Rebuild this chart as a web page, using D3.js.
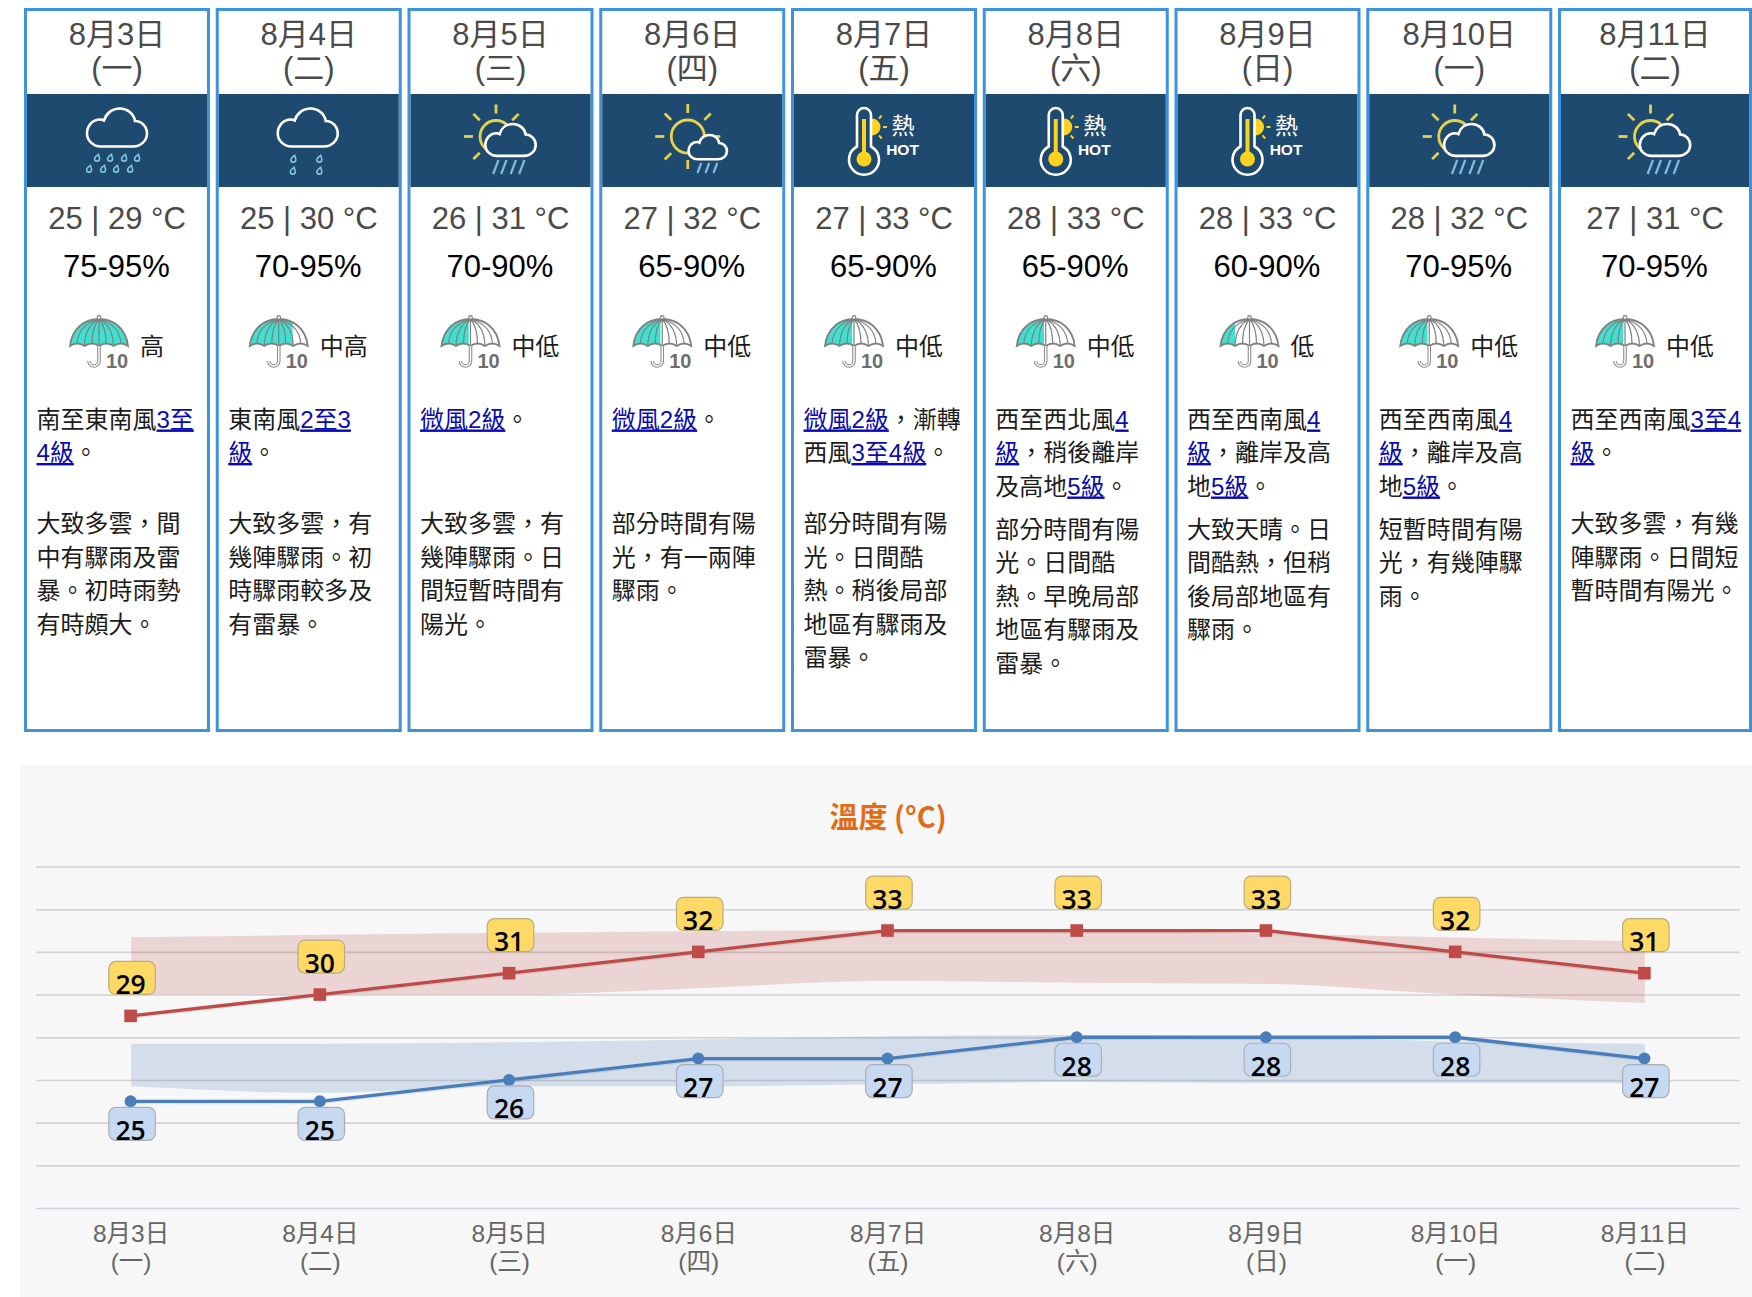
<!DOCTYPE html>
<html lang="zh-Hant">

<head>
    <meta charset="utf-8">
    <script src="https://d3js.org/d3.v7.min.js"></script>
    <style>
        body { margin: 0; background: white; }
        svg { display: block; }
        text { font-family: "Liberation Sans", "Noto Sans CJK TC", sans-serif; }
    </style>
</head>

<body>
    <svg id="page" width="1752" height="1297"></svg>
    <script>
        // forecast values
        const dates = ["8月3日", "8月4日", "8月5日", "8月6日", "8月7日", "8月8日", "8月9日", "8月10日", "8月11日"];
        const weekdays = ["(一)", "(二)", "(三)", "(四)", "(五)", "(六)", "(日)", "(一)", "(二)"];
        const minTemp = [25, 25, 26, 27, 27, 28, 28, 28, 27];
        const maxTemp = [29, 30, 31, 32, 33, 33, 33, 32, 31];
        const humidity = ["75-95%", "70-95%", "70-90%", "65-90%", "65-90%", "65-90%", "60-90%", "70-95%", "70-95%"];
        const rainWord = ["高", "中高", "中低", "中低", "中低", "中低", "低", "中低", "中低"];
        const rainShare = [1, 0.74, 0.47, 0.47, 0.47, 0.47, 0.25, 0.47, 0.47];
        const icons = ["heavyRain", "rain", "cloudSun", "sunCloud", "hot", "hot", "hot", "cloudSun", "cloudSun"];

        // [..] marks the underlined link part of a line
        const windLines = [
            ["南至東南風[3至]", "[4級]。"],
            ["東南風[2至3]", "[級]。"],
            ["[微風2級]。"],
            ["[微風2級]。"],
            ["[微風2級]，漸轉", "西風[3至4級]。"],
            ["西至西北風[4]", "[級]，稍後離岸", "及高地[5級]。"],
            ["西至西南風[4]", "[級]，離岸及高", "地[5級]。"],
            ["西至西南風[4]", "[級]，離岸及高", "地[5級]。"],
            ["西至西南風[3至4]", "[級]。"]
        ];
        const forecastLines = [
            ["大致多雲，間", "中有驟雨及雷", "暴。初時雨勢", "有時頗大。"],
            ["大致多雲，有", "幾陣驟雨。初", "時驟雨較多及", "有雷暴。"],
            ["大致多雲，有", "幾陣驟雨。日", "間短暫時間有", "陽光。"],
            ["部分時間有陽", "光，有一兩陣", "驟雨。"],
            ["部分時間有陽", "光。日間酷", "熱。稍後局部", "地區有驟雨及", "雷暴。"],
            ["部分時間有陽", "光。日間酷", "熱。早晚局部", "地區有驟雨及", "雷暴。"],
            ["大致天晴。日", "間酷熱，但稍", "後局部地區有", "驟雨。"],
            ["短暫時間有陽", "光，有幾陣驟", "雨。"],
            ["大致多雲，有幾", "陣驟雨。日間短", "暫時間有陽光。"]
        ];

        // shaded ranges behind the two lines
        const maxBandHigh = [32.68, 32.8, 32.9, 32.97, 33, 33, 32.85, 32.67, 32.5];
        const maxBandLow = [30, 30, 30, 30.3, 30.65, 30.55, 30.5, 30, 29.6];
        const minBandHigh = [27.7, 27.7, 27.77, 27.9, 28.05, 28.1, 28, 27.8, 27.7];
        const minBandLow = [25.7, 25.4, 25.7, 25.7, 25.8, 25.9, 25.85, 25.85, 25.85];
        const gridTicks = [20, 22, 24, 26, 28, 30, 32, 34, 36];

        const svg = d3.select("#page");
        const cardStep = 191.75;
        const navy = "#1f4a70";

        // ---------- icons ----------
        const cloudPath = "M-16,38 H16 C24,38 30,32 30,25 C30,18 24.5,12.5 18,12.5 C17,5 10,0 3,0 C-5,0 -11,5 -13,12 C-15,11 -16,11 -17,11 C-24.5,11 -30,17.5 -30,25 C-30,32 -24,38 -16,38 Z";

        function drawCloud(g, x, y, scale) {
            g.append("path")
                .attr("d", cloudPath)
                .attr("transform", `translate(${x},${y}) scale(${scale})`)
                .attr("fill", navy)
                .attr("stroke", "white")
                .attr("stroke-width", 2.6 / scale);
        }

        function drawDrops(g, spots) {
            spots.forEach(s => {
                g.append("path")
                    .attr("d", "M1.8,-4.6 C2,-2.5 3.2,-1.2 3.2,0.8 A3,3 0 0 1 -3,0.8 C-3,-1.6 0,-3.4 1.8,-4.6 Z")
                    .attr("transform", `translate(${s[0]},${s[1]}) scale(0.8)`)
                    .attr("fill", "none")
                    .attr("stroke", "#82c4e6")
                    .attr("stroke-width", 1.9);
            });
        }

        function drawSlashes(g, spots, len) {
            spots.forEach(s => {
                g.append("line")
                    .attr("x1", s[0]).attr("y1", s[1])
                    .attr("x2", s[0] - len * 0.38).attr("y2", s[1] + len)
                    .attr("stroke", "#7fbde0")
                    .attr("stroke-width", 2.2);
            });
        }

        function drawSun(g, x, y, r, rayAngles) {
            g.append("circle")
                .attr("cx", x).attr("cy", y).attr("r", r)
                .attr("fill", "none")
                .attr("stroke", "#e6d14b")
                .attr("stroke-width", 2.8);
            rayAngles.forEach(a => {
                const t = a * Math.PI / 180;
                g.append("line")
                    .attr("x1", x + Math.cos(t) * (r + 7)).attr("y1", y + Math.sin(t) * (r + 7))
                    .attr("x2", x + Math.cos(t) * (r + 16)).attr("y2", y + Math.sin(t) * (r + 16))
                    .attr("stroke", "#e6d14b")
                    .attr("stroke-width", 2.8);
            });
        }

        function drawHot(g) {
            // small sun behind the thermometer
            g.append("circle").attr("cx", -12).attr("cy", 127).attr("r", 8.5).attr("fill", "#fbd31f");
            [-50, 0, 50].forEach(a => {
                const t = a * Math.PI / 180;
                g.append("line")
                    .attr("x1", -12 + Math.cos(t) * 11).attr("y1", 127 + Math.sin(t) * 11)
                    .attr("x2", -12 + Math.cos(t) * 15).attr("y2", 127 + Math.sin(t) * 15)
                    .attr("stroke", "#fbd31f").attr("stroke-width", 2);
            });
            g.append("path")
                .attr("d", "M-27,146.5 V115 A7,7 0 0 1 -13,115 V146.5 A15,15 0 1 1 -27,146.5 Z")
                .attr("fill", navy)
                .attr("stroke", "white")
                .attr("stroke-width", 2.6);
            g.append("rect").attr("x", -22).attr("y", 119).attr("width", 4).attr("height", 36).attr("fill", "#fbd31f");
            g.append("circle").attr("cx", -20).attr("cy", 159).attr("r", 7.5).attr("fill", "#fbd31f");
            g.append("text").attr("x", 19).attr("y", 134)
                .attr("text-anchor", "middle").attr("font-size", 23).attr("fill", "white").text("熱");
            g.append("text").attr("x", 18.5).attr("y", 154.5)
                .attr("text-anchor", "middle").attr("font-size", 15.5).attr("font-weight", "bold").attr("fill", "white").text("HOT");
        }

        function drawIcon(g, kind) {
            if (kind == "heavyRain") {
                drawCloud(g, 0, 108.5, 1);
                drawDrops(g, [[-20, 158], [-7, 158], [7, 158], [20, 158], [-28, 169], [-14, 169], [-1, 169], [13, 169]]);
            } else if (kind == "rain") {
                drawCloud(g, -1, 108.5, 1);
                drawDrops(g, [[-15.5, 159], [10.5, 159], [-16, 171], [10.5, 171]]);
            } else if (kind == "cloudSun") {
                drawSun(g, -4.5, 136.5, 16, [-135, -90, -45, 180, 135]);
                drawCloud(g, 10, 124, 0.84);
                drawSlashes(g, [[-2, 160], [6, 160], [15.5, 160], [24, 160]], 14);
            } else if (kind == "sunCloud") {
                drawSun(g, -4.5, 136.5, 16.5, [-135, -90, -45, 0, 180, 135, 90]);
                drawCloud(g, 15.5, 135, 0.64);
                drawSlashes(g, [[9, 163], [17, 163], [25, 163]], 10);
            } else {
                drawHot(g);
            }
        }

        function drawUmbrella(g, id, share) {
            const dome = "M0,31 C2,13 15,4 29,4 C43,4 56,13 58,31 Q50.8,26 43.5,31 Q36.2,26 29,31 Q21.8,26 14.5,31 Q7.2,26 0,31 Z";
            g.append("clipPath").attr("id", id).append("rect")
                .attr("x", 0).attr("y", 0).attr("width", 58 * share).attr("height", 40);
            g.append("path").attr("d", dome).attr("fill", "white");
            g.append("path").attr("d", dome).attr("fill", "#40e0d0").attr("clip-path", `url(#${id})`);
            g.append("path").attr("d", "M29,4 Q8,10 7,29 M29,4 Q15,11 14.5,31 M29,4 Q22,12 22,29 M29,4 V31 M29,4 Q36,12 36,29 M29,4 Q43,11 43.5,31 M29,4 Q50,10 51,29")
                .attr("fill", "none").attr("stroke", "#808080").attr("stroke-width", 1.2);
            g.append("path").attr("d", dome)
                .attr("fill", "none").attr("stroke", "#808080").attr("stroke-width", 1.8);
            g.append("circle").attr("cx", 29).attr("cy", 2.5).attr("r", 1.8)
                .attr("fill", "white").attr("stroke", "#808080").attr("stroke-width", 1.2);
            // handle is a grey outline round a white stem
            g.append("path").attr("d", "M29,31 V46 A5,5 0 0 1 19,46")
                .attr("fill", "none").attr("stroke", "#909090").attr("stroke-width", 3.6);
            g.append("path").attr("d", "M29,31 V46 A5,5 0 0 1 19,46")
                .attr("fill", "none").attr("stroke", "white").attr("stroke-width", 1.4);
            g.append("text").attr("x", 36).attr("y", 52.5)
                .attr("font-size", 20).attr("font-weight", "bold").attr("fill", "#6e6e6e").text("10");
        }

        // writes one line with its [..] parts as underlined blue links
        function writeLine(g, x, y, line) {
            const t = g.append("text").attr("x", x).attr("y", y).attr("font-size", 24).attr("fill", "#1c1c1c");
            line.split(/(\[[^\]]*\])/).filter(p => p != "").forEach(p => {
                if (p[0] == "[") {
                    t.append("tspan").attr("fill", "#0a0ab4").style("text-decoration", "underline").text(p.slice(1, -1));
                } else {
                    t.append("tspan").text(p);
                }
            });
        }

        // ---------- the nine day cards ----------
        dates.forEach((d, i) => {
            const left = 24 + cardStep * i;
            const width = i == 8 ? 1752 - left : 186;
            const cx = left + width / 2;
            const card = svg.append("g");

            card.append("rect")
                .attr("x", left + 1.5).attr("y", 9.5)
                .attr("width", width - 3).attr("height", 721)
                .attr("fill", "white")
                .attr("stroke", "#3d94dc")
                .attr("stroke-width", 3);
            card.append("rect")
                .attr("x", left + 3).attr("y", 94)
                .attr("width", width - 6).attr("height", 93)
                .attr("fill", navy);

            card.append("text").attr("x", cx).attr("y", 45)
                .attr("text-anchor", "middle").attr("font-size", 31).attr("fill", "#4a4a4a").text(d);
            card.append("text").attr("x", cx).attr("y", 78.5)
                .attr("text-anchor", "middle").attr("font-size", 31).attr("fill", "#4a4a4a").text(weekdays[i]);

            drawIcon(card.append("g").attr("transform", `translate(${cx},0)`), icons[i]);

            card.append("text").attr("x", cx).attr("y", 228.5)
                .attr("text-anchor", "middle").attr("font-size", 31).attr("fill", "#4a4a4a")
                .text(`${minTemp[i]} | ${maxTemp[i]} °C`);
            card.append("text").attr("x", cx - 0.5).attr("y", 277)
                .attr("text-anchor", "middle").attr("font-size", 31).attr("fill", "black")
                .text(humidity[i]);

            const groupWidth = 70 + 24 * rainWord[i].length;
            const umbrellaX = cx - groupWidth / 2;
            drawUmbrella(card.append("g").attr("transform", `translate(${umbrellaX},315)`), "rain" + i, rainShare[i]);
            card.append("text").attr("x", umbrellaX + 70).attr("y", 355)
                .attr("font-size", 24).attr("fill", "#1c1c1c").text(rainWord[i]);

            const textX = left + 12.5;
            windLines[i].forEach((line, k) => writeLine(card, textX, 427.5 + 33.5 * k, line));
            const startY = windLines[i].length == 3 ? 537.5 : 532;
            forecastLines[i].forEach((line, k) => writeLine(card, textX, startY + 33.5 * k, line));
        });

        // ---------- temperature chart ----------
        svg.append("rect")
            .attr("x", 20).attr("y", 765)
            .attr("width", 1732).attr("height", 532)
            .attr("fill", "#f7f7f7");

        svg.append("text")
            .attr("x", 888).attr("y", 827.5)
            .attr("text-anchor", "middle")
            .attr("font-size", 29).attr("font-weight", 700)
            .attr("fill", "#e26b17")
            .style("font-family", "'Noto Sans CJK TC'")
            .text("溫度 (°C)");

        let xScale = d3.scalePoint()
            .domain(d3.range(dates.length))
            .range([36, 1739])
            .padding(0.5);
        let yScale = d3.scaleLinear()
            .domain([20, 36])
            .range([1208, 866.5]);

        svg.append("g")
            .attr("transform", "translate(36,0)")
            .call(d3.axisLeft(yScale).tickValues(gridTicks).tickSize(-1704).tickFormat(""))
            .call(g => g.select(".domain").remove())
            .selectAll("line")
            .attr("stroke", d => d == 20 ? "#c6d3e4" : "#d2d2d2")
            .attr("stroke-width", 1.6);

        svg.append("g")
            .attr("transform", "translate(0,1207)")
            .call(d3.axisBottom(xScale).tickSize(0).tickFormat(""))
            .call(g => g.select(".domain").remove())
            .selectAll(".tick text")
            .each(function (d) {
                const t = d3.select(this)
                    .attr("y", 0).attr("dy", null)
                    .attr("font-size", 24.5).attr("fill", "#666")
                    .style("font-family", "'Liberation Sans', 'Noto Sans CJK TC'");
                t.append("tspan").attr("x", 0).attr("y", 35).text(dates[d]);
                t.append("tspan").attr("x", 0).attr("y", 63).text(weekdays[d]);
            });

        const bandArea = (low, high) => d3.area()
            .x((d, i) => xScale(i) + 0.5)
            .y0((d, i) => yScale(low[i]))
            .y1((d, i) => yScale(high[i]))
            .curve(d3.curveMonotoneX)(dates);

        svg.append("path").attr("d", bandArea(maxBandLow, maxBandHigh)).attr("fill", "rgba(192,80,77,0.2)");
        svg.append("path").attr("d", bandArea(minBandLow, minBandHigh)).attr("fill", "rgba(74,126,187,0.2)");

        const tempLine = d3.line().x((d, i) => xScale(i)).y(d => yScale(d));

        [[maxTemp, "#bf4b49"], [minTemp, "#4a7ebb"]].forEach(s => {
            // faint shadow under the line
            svg.append("path").attr("d", tempLine(s[0]))
                .attr("transform", "translate(0,1.5)")
                .attr("fill", "none").attr("stroke", "black").attr("stroke-opacity", 0.08).attr("stroke-width", 3);
            svg.append("path").attr("d", tempLine(s[0]))
                .attr("fill", "none").attr("stroke", s[1]).attr("stroke-width", 3.3);
        });

        svg.selectAll(".maxMark").data(maxTemp).join("rect")
            .attr("x", (d, i) => xScale(i) - 6.3)
            .attr("y", d => yScale(d) - 6.3)
            .attr("width", 12.6).attr("height", 12.6)
            .attr("fill", "#bf4b49");
        svg.selectAll(".minMark").data(minTemp).join("circle")
            .attr("cx", (d, i) => xScale(i))
            .attr("cy", d => yScale(d))
            .attr("r", 6)
            .attr("fill", "#4a7ebb");

        function drawBadges(values, top, fill, edge) {
            values.forEach((d, i) => {
                svg.append("rect")
                    .attr("x", xScale(i) - 21.8).attr("y", yScale(d) + top)
                    .attr("width", 46.5).attr("height", 33).attr("rx", 7)
                    .attr("fill", fill)
                    .attr("stroke", edge).attr("stroke-width", 1.2);
                svg.append("text")
                    .attr("x", xScale(i)).attr("y", yScale(d) + top + 32.5)
                    .attr("text-anchor", "middle")
                    .attr("font-size", 26.5).attr("font-weight", 600)
                    .attr("fill", "black")
                    .style("font-family", "'Open Sans'")
                    .text(d);
            });
        }
        drawBadges(maxTemp, -54.5, "#ffd966", "#b9ad7c");
        drawBadges(minTemp, 6, "#c6d9f1", "#a9aeb6");
    </script>
</body>

</html>
